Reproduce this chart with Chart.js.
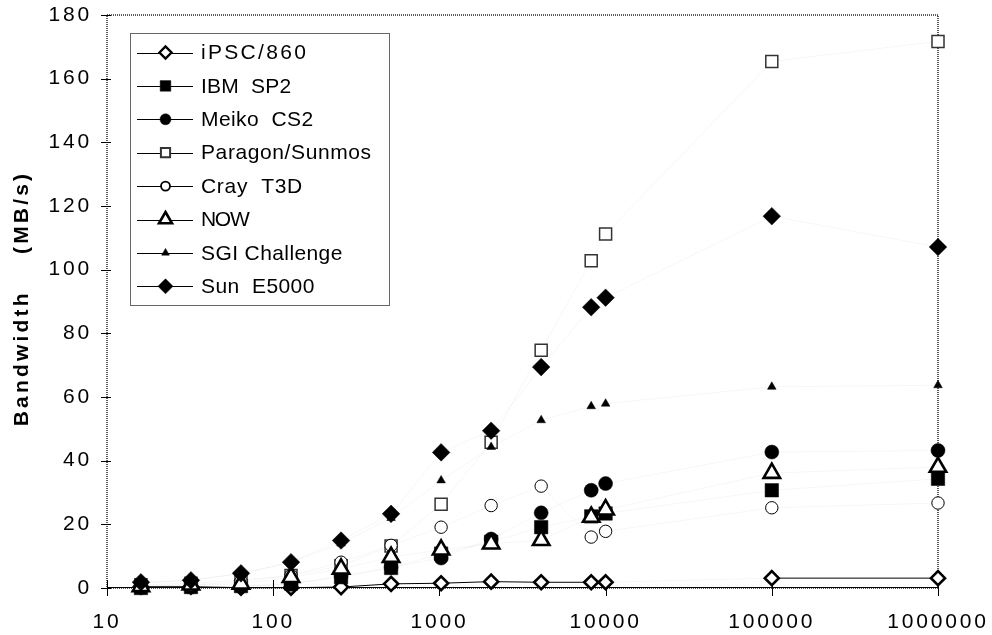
<!DOCTYPE html>
<html><head><meta charset="utf-8">
<script src="https://cdn.jsdelivr.net/npm/chart.js@4.4.0/dist/chart.umd.min.js"></script>
<style>html,body{margin:0;padding:0;background:#fff;}#wrap{width:992px;height:635px;position:relative;}</style>
</head><body><div id="wrap"><canvas id="c" width="992" height="635"></canvas></div>
<script>
// ---- data ----
const messageSizes = [16, 32, 64, 128, 256, 512, 1024, 2048, 4096, 8192, 10000, 100000, 1000000];
const seriesNames = ['iPSC/860', 'IBM  SP2', 'Meiko  CS2', 'Paragon/Sunmos', 'Cray  T3D', 'NOW', 'SGI Challenge', 'Sun  E5000'];
const ipsc860      = [0.4, 0.4, 0.1, 0.1, 0.3, 1.3, 1.5, 2.0, 1.8, 1.8, 1.8, 3.1, 3.1];
const ibmSP2       = [0.0, 0.3, 0.6, 1.4, 3.4, 6.3, 10.8, 14.5, 19.1, 22.5, 23.4, 30.7, 34.3];
const meikoCS2     = [0.2, 0.3, 0.5, 1.2, 3.8, 6.5, 9.4, 15.4, 23.6, 30.7, 32.8, 42.7, 43.2];
const paragon      = [1.0, 1.5, 2.5, 3.9, 7.0, 13.2, 26.3, 45.8, 74.7, 102.8, 111.2, 165.4, 171.7];
const crayT3D      = [0.5, 1.0, 2.0, 4.0, 8.1, 13.4, 19.1, 25.9, 32.0, 16.0, 17.8, 25.2, 26.7];
const nowCluster   = [0.5, 1.0, 1.3, 3.4, 6.0, 9.7, 12.0, 13.9, 15.0, 22.3, 24.6, 36.1, 38.0];
const sgiChallenge = [1.5, 2.5, 4.5, 8.0, 14.0, 22.0, 33.8, 44.3, 52.7, 57.1, 57.9, 63.2, 63.7];
const sunE5000     = [1.8, 2.4, 4.6, 8.1, 14.9, 23.3, 42.6, 49.4, 69.4, 88.2, 91.2, 116.8, 107.1];
const xTickValues = [10, 100, 1000, 10000, 100000, 1000000];
const yTickValues = [0, 20, 40, 60, 80, 100, 120, 140, 160, 180];
const yAxisTitle = 'Bandwidth    (MB/s)';

const seriesValues = [ipsc860, ibmSP2, meikoCS2, paragon, crayT3D, nowCluster, sgiChallenge, sunE5000];

// ---- styles ----
const FAINT = 'rgba(0,0,0,0.035)';
const styles = [
  {pointStyle:'rectRot', r:7, bg:'#fff', bc:'#000', bw:2.6, lr:6, lbw:2.4, ls:2.3},
  {pointStyle:'rect', r:9.5, bg:'#000', bc:'#000', bw:0.5, lr:7.5, lbw:0.5, ls:0.2},
  {pointStyle:'circle', r:7, bg:'#000', bc:'#000', bw:0.5, lr:5.5, lbw:0.5, ls:0.4},
  {pointStyle:'rect', r:8.5, bg:'#fff', bc:'#333', bw:1.5, lr:6.5, lbw:2, ls:0.6},
  {pointStyle:'circle', r:6.2, bg:'#fff', bc:'#000', bw:1, lr:4.5, lbw:1.8, ls:0.7},
  {pointStyle:'triangle', r:9.5, bg:'#fff', bc:'#000', bw:2.6, lr:7.5, lbw:2.6, ls:-1.3},
  {pointStyle:'triangle', r:5, bg:'#000', bc:'#000', bw:0.5, lr:4.5, lbw:0.5, ls:0.4},
  {pointStyle:'rectRot', r:8.8, bg:'#000', bc:'#000', bw:0.5, lr:7.5, lbw:0.5, ls:0.4}
];

const datasets = seriesValues.map((vals, i) => ({
  label: seriesNames[i],
  data: messageSizes.map((x, j) => ({x: x, y: vals[j]})),
  showLine: true,
  borderColor: FAINT,
  borderWidth: 1,
  tension: 0,
  pointStyle: styles[i].pointStyle,
  pointRadius: styles[i].r,
  pointBackgroundColor: styles[i].bg,
  pointBorderColor: styles[i].bc,
  pointBorderWidth: styles[i].bw,
  order: seriesValues.length - i,
  clip: false,
  segment: i === 0 ? {
    borderColor: ctx => Math.abs(ctx.p0.parsed.y - ctx.p1.parsed.y) < 1.2 ? '#000' : FAINT
  } : undefined
}));

const FONT = '"Liberation Sans", Arial, sans-serif';

const frame = {
  id: 'frame',
  beforeDraw(chart) { chart.ctx.letterSpacing = '2.8px'; },
  beforeDatasetsDraw(chart) {
    const {ctx, chartArea: a, scales} = chart;
    ctx.save();
    ctx.letterSpacing = '0px';
    ctx.strokeStyle = '#5a5a5a';
    ctx.lineWidth = 2;
    ctx.setLineDash([1, 1]);
    ctx.strokeRect(a.left, a.top, a.right - a.left, a.bottom - a.top);
    ctx.setLineDash([]);
    ctx.strokeStyle = '#000';
    ctx.lineWidth = 1;
    ctx.beginPath();
    ctx.moveTo(a.left, a.bottom - 0.5); ctx.lineTo(a.right, a.bottom - 0.5);
    ctx.stroke();
    ctx.beginPath();
    scales.y.ticks.forEach(t => {
      const y = Math.round(scales.y.getPixelForValue(t.value)) + 0.5;
      ctx.moveTo(a.left - 6, y); ctx.lineTo(a.left + 4, y);
    });
    scales.x.ticks.forEach(t => {
      const x = Math.round(scales.x.getPixelForValue(t.value)) + 0.5;
      ctx.moveTo(x, a.bottom - 8); ctx.lineTo(x, a.bottom + 8);
    });
    ctx.stroke();
    // y axis title
    ctx.translate(22, (a.top + a.bottom) / 2 - 3);
    ctx.rotate(-Math.PI / 2);
    ctx.font = 'bold 21px ' + FONT;
    ctx.letterSpacing = '3.2px';
    ctx.fillStyle = '#000';
    ctx.textAlign = 'center';
    ctx.textBaseline = 'middle';
    ctx.fillText(yAxisTitle, 0, 0);
    ctx.restore();
  },
  afterDraw(chart) {
    const {ctx} = chart;
    ctx.save();
    const bx = 130.5, by = 33.5, bw = 259, bh = 272;
    ctx.fillStyle = '#fff';
    ctx.fillRect(bx, by, bw, bh);
    ctx.strokeStyle = '#666';
    ctx.lineWidth = 1;
    ctx.strokeRect(bx, by, bw, bh);
    ctx.font = '21px ' + FONT;
    ctx.textBaseline = 'middle';
    ctx.textAlign = 'left';
    chart.data.datasets.forEach((ds, i) => {
      const y = 52.5 + i * 33.4;
      ctx.strokeStyle = '#000';
      ctx.lineWidth = 1;
      ctx.beginPath();
      ctx.moveTo(137, Math.round(y) + 0.5); ctx.lineTo(193, Math.round(y) + 0.5);
      ctx.stroke();
      ctx.fillStyle = styles[i].bg;
      ctx.strokeStyle = styles[i].bc;
      ctx.lineWidth = styles[i].lbw;
      Chart.helpers.drawPoint(ctx, {pointStyle: styles[i].pointStyle, radius: styles[i].lr, rotation: 0, borderWidth: styles[i].lbw}, 165.5, y);
      ctx.fillStyle = '#000';
      ctx.letterSpacing = styles[i].ls + 'px';
      ctx.fillText(ds.label, 201, y + 1);
    });
    ctx.restore();
  }
};

new Chart(document.getElementById('c'), {
  type: 'scatter',
  data: {datasets},
  options: {
    responsive: false,
    animation: false,
    events: [],
    layout: {padding: {top: 15, right: 54, left: 0, bottom: 0}},
    plugins: {legend: {display: false}, tooltip: {enabled: false}},
    scales: {
      x: {
        type: 'logarithmic',
        min: 10, max: 1000000,
        grid: {display: false},
        border: {display: false},
        afterBuildTicks: s => { s.ticks = xTickValues.map(v => ({value: v})); },
        afterFit: s => { s.height = 47; s.paddingLeft = 0; s.paddingRight = 0; },
        ticks: {
          autoSkip: false, maxRotation: 0, padding: 14,
          color: '#000',
          font: {family: FONT, size: 21},
          callback: v => String(v)
        }
      },
      y: {
        min: 0, max: 180,
        grid: {display: false},
        border: {display: false},
        afterBuildTicks: s => { s.ticks = yTickValues.map(v => ({value: v})); },
        afterFit: s => { s.width = 107; s.paddingTop = 0; s.paddingBottom = 0; },
        ticks: {
          padding: 7, color: '#000',
          font: {family: FONT, size: 21},
          callback: v => String(v)
        }
      }
    }
  },
  plugins: [frame]
});
</script>
</body></html>
